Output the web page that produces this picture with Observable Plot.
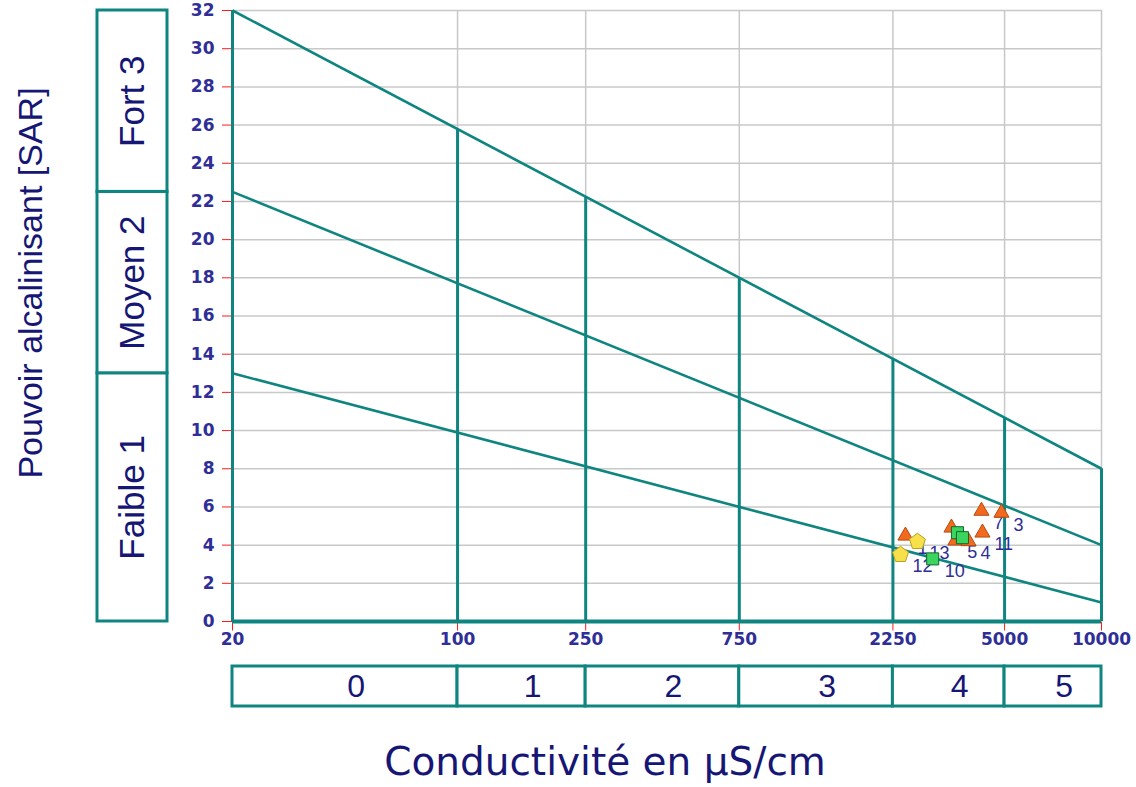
<!DOCTYPE html>
<html>
<head>
<meta charset="utf-8">
<script src="https://cdn.jsdelivr.net/npm/d3@7"></script>
<script src="https://cdn.jsdelivr.net/npm/@observablehq/plot@0.6"></script>
<style>
  body { margin: 0; background: #fff; }
  #wrap { position: relative; width: 1136px; height: 787px; overflow: hidden; background: #fff; }
  .abs { position: absolute; }
  #ytitle { position: absolute; left: 30px; top: 283px; transform: translate(-50%, -50%) rotate(-90deg);
    font: 34px "Liberation Sans", Arial, sans-serif; color: #161675; white-space: nowrap; }
  #xtitle { position: absolute; left: 605px; top: 761px; transform: translate(-50%, -50%);
    font: 39px "DejaVu Sans", sans-serif; color: #161675; white-space: nowrap; }
</style>
</head>
<body>
<div id="wrap">
  <div id="main" class="abs" style="left:0;top:0"></div>
  <div id="left" class="abs" style="left:95px;top:0"></div>
  <div id="bottom" class="abs" style="left:0;top:660px"></div>
  <div id="ytitle">Pouvoir alcalinisant [SAR]</div>
  <div id="xtitle">Conductivité en µS/cm</div>
</div>
<script>
// ---- data ----
const ecTicks = [20, 100, 250, 750, 2250, 5000, 10000];
const sarTicks = [0, 2, 4, 6, 8, 10, 12, 14, 16, 18, 20, 22, 24, 26, 28, 30, 32];
const salinityClasses = ["0", "1", "2", "3", "4", "5"];
const sodiumClasses = ["Faible 1", "Moyen 2", "Fort 3"];
const sodiumBounds = [0, 13, 22.5, 32];
const lineSarAt20 = [13, 22.5, 32];
const lineSarAt10000 = [1, 4, 8];
const dividerTop = [32, 25.8, 22.25, 18.0, 13.76, 10.68, 8];

const triEC = [2461, 3420, 3516, 3863, 4268, 4238, 4890];
const triSAR = [4.49, 4.91, 4.23, 4.2, 4.65, 5.79, 5.69];
const triLab = ["1", "", "5", "4", "11", "7", "3"];
const sqEC = [3570, 3700, 2990];
const sqSAR = [4.65, 4.39, 3.28];
const sqLab = ["", "", "10"];
const pentEC = [2376, 2681];
const pentSAR = [3.50, 4.18];
const pentLab = ["12", "13"];

// ---- styles ----
const teal = "#0f8580";
const navy = "#161675";
const tickText = "#2e2e96";
const red = "#ff1a1a";

const pentagon = {
  draw(ctx, size) {
    const R = Math.sqrt(size / 2.3776);
    for (let k = 0; k < 5; k++) {
      const a = -Math.PI / 2 + k * 2 * Math.PI / 5;
      const px = R * Math.cos(a), py = R * Math.sin(a);
      if (k) ctx.lineTo(px, py); else ctx.moveTo(px, py);
    }
    ctx.closePath();
  }
};
const tickDown = {draw(ctx) { ctx.moveTo(0, 0); ctx.lineTo(0, 9); }};

const lines = lineSarAt20.map((y1, i) => ({x1: ecTicks[0], y1, x2: ecTicks[ecTicks.length - 1], y2: lineSarAt10000[i]}));
const dividers = ecTicks.map((x, i) => ({x, top: dividerTop[i]}));
const tri = triEC.map((x, i) => ({x, y: triSAR[i], label: triLab[i]}));
const sq = sqEC.map((x, i) => ({x, y: sqSAR[i], label: sqLab[i]}));
const pent = pentEC.map((x, i) => ({x, y: pentSAR[i], label: pentLab[i]}));
const labeled = [...tri, ...sq, ...pent].filter(d => d.label !== "");

const main = Plot.plot({
  width: 1136, height: 660,
  marginLeft: 232, marginRight: 35, marginTop: 10, marginBottom: 39,
  x: {type: "log", domain: [20, 10000], axis: null},
  y: {domain: [0, 32], axis: null},
  style: {fontFamily: "DejaVu Sans, sans-serif", fontSize: "17px", color: tickText, background: "transparent", overflow: "visible"},
  marks: [
    Plot.gridY({ticks: sarTicks.slice(1), stroke: "#c8c8c8", strokeOpacity: 1, strokeWidth: 1.5}),
    Plot.gridX({ticks: ecTicks.slice(1), stroke: "#c8c8c8", strokeOpacity: 1, strokeWidth: 1.5}),
    Plot.axisY({ticks: sarTicks, tickSize: 10, tickPadding: 8, stroke: red, fill: tickText,
      fontSize: 17, fontWeight: "bold", label: null}),
    Plot.dot(ecTicks, {x: d => d, y: 0, symbol: tickDown, r: 3, stroke: red, fill: "none", strokeWidth: 1}),
    Plot.text(ecTicks, {x: d => d, frameAnchor: "bottom", dy: 11, lineAnchor: "top", text: d => String(d),
      fontSize: 17, fontWeight: "bold", fill: tickText}),
    Plot.ruleX(dividers, {x: "x", y1: 0, y2: "top", stroke: teal, strokeWidth: 3}),
    Plot.link(lines, {x1: "x1", y1: "y1", x2: "x2", y2: "y2", stroke: teal, strokeWidth: 2.6}),
    Plot.ruleY([0], {stroke: teal, strokeWidth: 4}),
    Plot.text(labeled, {x: "x", y: "y", text: "label", dx: 12, dy: 12, textAnchor: "start",
      fontSize: 18, fontFamily: "Liberation Sans, Arial, sans-serif", fill: tickText}),
    Plot.dot(tri, {x: "x", y: "y", symbol: "triangle", r: 5.6, fill: "#f26a1e", stroke: "#b84a12", strokeWidth: 1}),
    Plot.dot(sq, {x: "x", y: "y", symbol: "square", r: 6.8, fill: "#3bd45e", stroke: "#0f6a2c", strokeWidth: 1}),
    Plot.dot(pent, {x: "x", y: "y", symbol: pentagon, r: 7.3, fill: "#f7e04a", stroke: "#b8a020", strokeWidth: 1})
  ]
});
document.getElementById("main").appendChild(main);

// left sodium class boxes
const bands = sodiumClasses.map((name, i) => ({name, y1: sodiumBounds[i], y2: sodiumBounds[i + 1]}));
const left = Plot.plot({
  width: 74, height: 629,
  marginLeft: 2, marginRight: 2, marginTop: 10, marginBottom: 8,
  x: {domain: [0, 1], axis: null},
  y: {domain: [0, 32], axis: null},
  style: {background: "transparent", overflow: "visible"},
  marks: [
    Plot.rect(bands, {x1: 0, x2: 1, y1: "y1", y2: "y2", fill: "white", stroke: teal, strokeWidth: 3}),
    Plot.text(bands, {x: 0.5, y: d => (d.y1 + d.y2) / 2, text: "name", rotate: -90, fontSize: 35,
      fontFamily: "Liberation Sans, Arial, sans-serif", fill: navy})
  ]
});
document.getElementById("left").appendChild(left);

// bottom salinity class boxes
const sal = salinityClasses.map((name, i) => ({name, x1: ecTicks[i], x2: ecTicks[i + 1]}));
const bottom = Plot.plot({
  width: 1136, height: 52,
  marginLeft: 232, marginRight: 35, marginTop: 6, marginBottom: 6,
  x: {type: "log", domain: [20, 10000], axis: null},
  y: {domain: [0, 1], axis: null},
  style: {background: "transparent", overflow: "visible"},
  marks: [
    Plot.rect(sal, {x1: "x1", x2: "x2", y1: 0, y2: 1, fill: "white", stroke: teal, strokeWidth: 3}),
    Plot.text(sal, {x: d => Math.sqrt(d.x1 * d.x2), y: 0.5, text: "name", dx: 11, fontSize: 32,
      fontFamily: "Liberation Sans, Arial, sans-serif", fill: navy})
  ]
});
document.getElementById("bottom").appendChild(bottom);
</script>
</body>
</html>
